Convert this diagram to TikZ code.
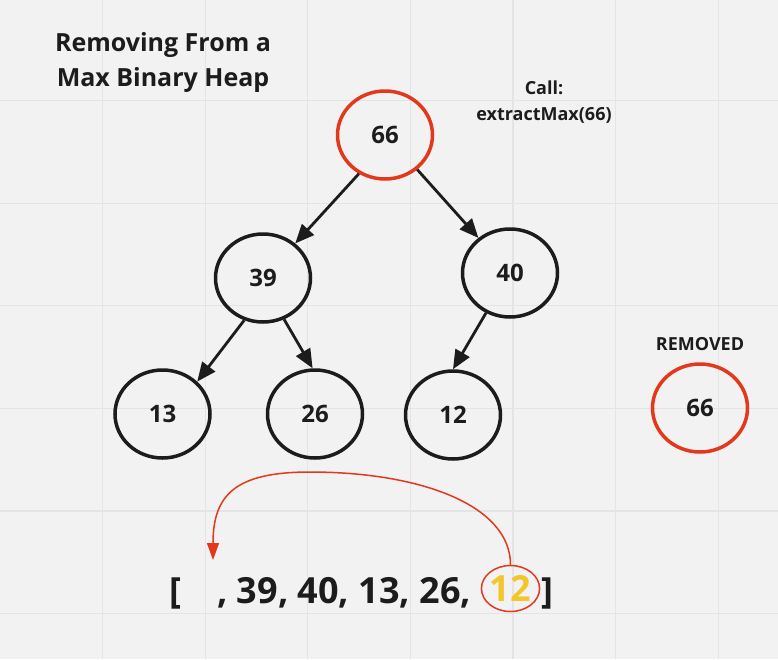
\documentclass[tikz,border=0pt]{standalone}
\usepackage{fontspec}
\setmainfont{Open Sans}
\usetikzlibrary{shapes.geometric,arrows.meta}

\definecolor{fond}{HTML}{F2F2F2}
\definecolor{grille}{HTML}{E4E4E4}
\definecolor{rouge}{HTML}{E2391D}
\definecolor{jaune}{HTML}{F3C72C}
\definecolor{encre}{HTML}{1C1C1C}

\tikzset{
    noeud/.style={ellipse, draw=encre, line width=3.5pt, minimum width=95pt, minimum height=88pt,
        inner sep=0pt, text=encre, font=\fontsize{24}{28}\selectfont\bfseries},
    fleche/.style={-{Triangle[length=19pt,width=16pt]}, line width=2.8pt, draw=encre},
    titre/.style={text=encre, font=\fontsize{25}{30}\selectfont\bfseries, inner sep=0pt},
    petit/.style={text=encre, font=\fontsize{18}{22}\selectfont\bfseries, inner sep=0pt},
    tableau/.style={text=encre, font=\fontsize{36}{40}\selectfont\bfseries, inner sep=0pt},
    courbe/.style={-{Triangle[length=17pt,width=12pt]}, line width=1.5pt, draw=rouge},
}

\begin{document}
\begin{tikzpicture}[x=1pt, y=-1pt]

    % Le fond quadrillé
    \useasboundingbox (0,0) rectangle (778,659);
    \fill[fond] (0,0) rectangle (778,659);
    \foreach \i in {1,...,7}
        \draw[grille, line width=1.2pt] (102.6*\i,0) -- (102.6*\i,659);
    \foreach \j in {0,...,5}
        \draw[grille, line width=1.2pt] (0,100.5+102.6*\j) -- (778,100.5+102.6*\j);

    % Le titre et l'appel
    \node[titre, anchor=base] (titre1) at (163,51) {Removing From a};
    \node[titre, anchor=base] (titre2) at (163,86) {Max Binary Heap};
    \node[petit, anchor=base] (appel1) at (544,94) {Call:};
    \node[petit, anchor=base] (appel2) at (544,120) {extractMax(66)};

    % Les noeuds du tas
    \node[noeud, draw=rouge] (racine) at (385,135) {66};
    \node[noeud] (n39) at (263,278) {39};
    \node[noeud] (n40) at (510,273) {40};
    \node[noeud] (n13) at (162.5,414) {13};
    \node[noeud] (n26) at (315,414) {26};
    \node[noeud] (n12) at (453,415) {12};

    % Les liens entre parents et enfants
    \draw[fleche] (racine.236) -- (n39.47);
    \draw[fleche] (racine.313) -- (n40.132);
    \draw[fleche] (n39.246) -- (n13.43);
    \draw[fleche] (n39.297) -- (n26.93);
    \draw[fleche] (n40.239) -- (n12.90);

    % La valeur retirée
    \node[petit, anchor=base] (retireTxt) at (700,350) {REMOVED};
    \node[noeud, draw=rouge] (retire) at (700,408) {66};

    % Le tableau en bas
    \node[tableau, anchor=base west] (crochetG) at (169,603) {[};
    \node[tableau, anchor=base west] (liste) at (217,603) {, 39, 40, 13, 26,};
    \node[tableau, text=jaune, ellipse, draw=rouge, line width=1.5pt, minimum width=54pt,
        minimum height=46pt] (dernier) at (510.5,588.5) {12};
    \node[tableau, anchor=base west] (crochetD) at (541,603) {]};
    \coordinate (vide) at (213,560);

    % Le 12 monte à la place de la racine
    \draw[courbe] (dernier.north) .. controls (510.5,505) and (420,472) .. (310,472)
        .. controls (235,472) and (213,495) .. (vide);

\end{tikzpicture}
\end{document}
